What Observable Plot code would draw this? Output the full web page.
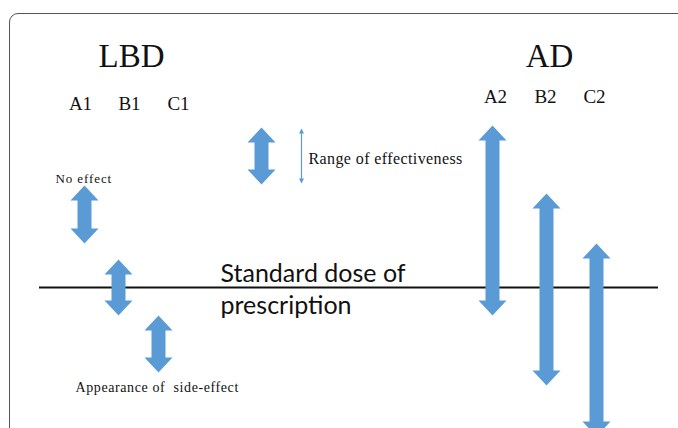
<!DOCTYPE html>
<html>
<head>
<meta charset="utf-8">
<script src="https://cdn.jsdelivr.net/npm/d3@7"></script>
<script src="https://cdn.jsdelivr.net/npm/@observablehq/plot@0.6"></script>
<style>
  html, body { margin: 0; padding: 0; background: #fff; overflow: hidden; }
  #wrap { position: relative; width: 678px; height: 428px; }
  #border { position: absolute; left: 9px; top: 13px; width: 720px; height: 460px;
            border: 1.5px solid #555; border-radius: 9px; pointer-events: none; }
  #chart { position: absolute; left: 0; top: 0; }
  .pre text { white-space: pre; }
  .sp1 text { letter-spacing: 0.4px; }
  .sp2 text { letter-spacing: 0.9px; }
  .sp3 text { letter-spacing: 0.6px; }
</style>
</head>
<body>
<div id="wrap"><div id="chart"></div><div id="border"></div></div>
<script>
// Relative dose: 0 = standard dose of prescription (positive = higher on the chart)
const groupNames = ["LBD", "AD"];
const groupNameX = [131, 549];
const groupNameY = [221, 221];

const drugs = ["A1", "B1", "C1", "A2", "B2", "C2"];
const drugLabelX = [80, 129, 178, 495, 545, 594];
const drugLabelY = [178, 178, 178, 185, 185, 185];
const arrowX = [84, 118, 158, 492, 546, 596];
const rangeTop = [102, 28, -28, 162, 94, 44];
const rangeBottom = [44, -28, -85, -28, -98, -149];

const standardDose = 0;
const lineFrom = 39, lineTo = 658;
const standardLabel = "Standard dose of\nprescription";
const standardLabelX = 220, standardLabelY = -26;

// legend
const legendArrowX = 261, legendTop = 160, legendBottom = 103;
const legendThinX = 301, legendThinTop = 159, legendThinBottom = 104;
const legendText = ["Range of effectiveness"], legendTextX = [308], legendTextY = [124];
const noEffectText = ["No effect"], noEffectX = [55], noEffectY = [105];
const sideText = ["Appearance of  side-effect"], sideX = [75], sideY = [-104];

const blue = "#5b9bd5";
const arrows = drugs.map((d, i) => ({name: d, x: arrowX[i], top: rangeTop[i], bottom: rangeBottom[i]}));
arrows.push({name: "legend", x: legendArrowX, top: legendTop, bottom: legendBottom});

const headUp = {draw(ctx) { ctx.moveTo(0, 0); ctx.lineTo(14, 15); ctx.lineTo(-14, 15); ctx.closePath(); }};
const headDown = {draw(ctx) { ctx.moveTo(0, 0); ctx.lineTo(14, -15); ctx.lineTo(-14, -15); ctx.closePath(); }};
const tinyUp = {draw(ctx) { ctx.moveTo(0, 0); ctx.lineTo(2.5, 5); ctx.lineTo(-2.5, 5); ctx.closePath(); }};
const tinyDown = {draw(ctx) { ctx.moveTo(0, 0); ctx.lineTo(2.5, -5); ctx.lineTo(-2.5, -5); ctx.closePath(); }};

const serif = "Liberation Serif, Times New Roman, serif";
const thin = [{x: legendThinX, top: legendThinTop, bottom: legendThinBottom}];

const chart = Plot.plot({
  width: 678, height: 428,
  marginTop: 0, marginBottom: 0, marginLeft: 0, marginRight: 0,
  x: {domain: [0, 678], axis: null},
  y: {domain: [-141, 287], axis: null},
  style: {background: "transparent"},
  marks: [
    Plot.ruleY([standardDose], {x1: lineFrom, x2: lineTo, stroke: "#111", strokeWidth: 2}),
    Plot.ruleX(arrows, {x: "x", y1: "top", y2: "bottom", stroke: blue, strokeWidth: 14, insetTop: 14, insetBottom: 14}),
    Plot.dot(arrows, {x: "x", y: "top", symbol: headUp, fill: blue, stroke: "none"}),
    Plot.dot(arrows, {x: "x", y: "bottom", symbol: headDown, fill: blue, stroke: "none"}),
    Plot.ruleX(thin, {x: "x", y1: "top", y2: "bottom", stroke: blue, strokeWidth: 1.2, insetTop: 3, insetBottom: 3}),
    Plot.dot(thin, {x: "x", y: "top", symbol: tinyUp, fill: blue, stroke: "none"}),
    Plot.dot(thin, {x: "x", y: "bottom", symbol: tinyDown, fill: blue, stroke: "none"}),
    Plot.text(groupNames, {x: (d, i) => groupNameX[i], y: (d, i) => groupNameY[i], text: d => d,
      fontFamily: serif, fontSize: 33, fill: "#111", lineAnchor: "bottom"}),
    Plot.text(drugs, {x: (d, i) => drugLabelX[i], y: (d, i) => drugLabelY[i], text: d => d,
      fontFamily: serif, fontSize: 19, fill: "#111", lineAnchor: "bottom"}),
    Plot.text([standardLabel], {x: standardLabelX, y: standardLabelY, text: d => d,
      fontFamily: "Lato, Open Sans, sans-serif", fontSize: 25, lineHeight: 1.28, fill: "#111",
      textAnchor: "start", lineAnchor: "bottom"}),
    Plot.text(legendText, {x: (d, i) => legendTextX[i], y: (d, i) => legendTextY[i], text: d => d,
      fontFamily: serif, fontSize: 16, fill: "#111", textAnchor: "start", lineAnchor: "bottom", className: "sp1"}),
    Plot.text(noEffectText, {x: (d, i) => noEffectX[i], y: (d, i) => noEffectY[i], text: d => d,
      fontFamily: serif, fontSize: 13, fill: "#111", textAnchor: "start", lineAnchor: "bottom", className: "sp2"}),
    Plot.text(sideText, {x: (d, i) => sideX[i], y: (d, i) => sideY[i], text: d => d,
      fontFamily: serif, fontSize: 14, fill: "#111", textAnchor: "start", lineAnchor: "bottom", className: "pre sp3"})
  ]
});
document.getElementById("chart").appendChild(chart);
</script>
</body>
</html>
